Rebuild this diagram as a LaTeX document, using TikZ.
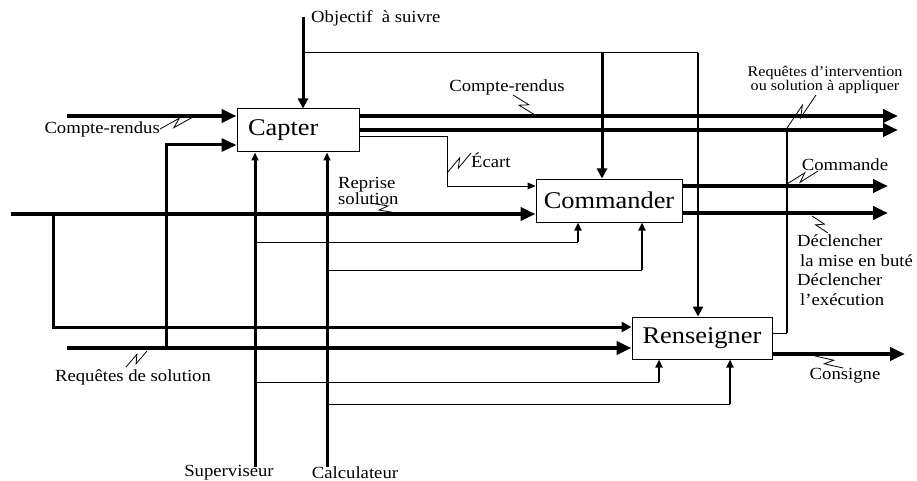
\documentclass[tikz,border=0pt]{standalone}
\usepackage{fontspec}
\setmainfont{Liberation Serif}[FakeStretch=1.1]
\usetikzlibrary{arrows.meta,calc}
\tikzset{
  thk/.style={line width=4.5pt},
  med/.style={line width=3pt},
  mid/.style={line width=2.3pt},
  thn/.style={line width=1pt},
  bigA/.style={-{Triangle[length=15pt,width=13pt]}},
  midA/.style={-{Triangle[length=10pt,width=10pt]}},
  smA/.style={-{Triangle[length=8pt,width=7pt]}},
  box/.style={draw, line width=1pt, fill=white, inner sep=0pt, font=\fontsize{24}{27}\selectfont},
  lab/.style={inner sep=0pt, font=\fontsize{17}{19.5}\selectfont},
  labs/.style={inner sep=0pt, font=\fontsize{14.7}{14}\selectfont},
  zig/.style={line width=0.8pt},
}
\newcommand{\zigzag}[2]{\draw[zig] (#1) -- ($(#1)!0.62!(#2)!3.5pt!90:(#2)$) -- ($(#1)!0.38!(#2)!3.5pt!-90:(#2)$) -- (#2);}
\begin{document}
\begin{tikzpicture}[x=1pt,y=-1pt]
\useasboundingbox (0,0) rectangle (917,481);
\fill[white] (0,0) rectangle (917,481);

% boxes
\node[box, minimum width=122pt, minimum height=43pt, text width=100pt, align=left] (capter) at (298,130.5) {Capter};
\node[box, minimum width=146pt, minimum height=43pt] (cmd) at (609,200.5) {Commander};
\node[box, minimum width=140pt, minimum height=42pt] (rens) at (702,338) {Renseigner};

% coordinates
\coordinate (objtop) at (303,17);
\coordinate (ja) at (303,53);
\coordinate (jb) at (602,53);
\coordinate (jc) at (698,53);
\coordinate (crA) at (67,116);
\coordinate (o1) at (898,116);
\coordinate (o2) at (898,130);
\coordinate (e1) at (447,137);
\coordinate (e2) at (447,186);
\coordinate (m0) at (11,214);
\coordinate (b1) at (53,214);
\coordinate (b2) at (53,327);
\coordinate (r0) at (67,348);
\coordinate (q1) at (166,348);
\coordinate (q2) at (166,145);
\coordinate (s0) at (255,467);
\coordinate (c0) at (327,467);
\coordinate (t1) at (255,242);
\coordinate (t1e) at (578,242);
\coordinate (t2) at (327,270);
\coordinate (t2e) at (642,270);
\coordinate (t3) at (255,382);
\coordinate (t3e) at (659,382);
\coordinate (t4) at (327,404);
\coordinate (t4e) at (730,404);
\coordinate (co1) at (888,186);
\coordinate (co2) at (888,213);
\coordinate (ri1) at (787,333);
\coordinate (ri2) at (787,130);
\coordinate (cons) at (905,354);

% Objectif / controls from top
\draw[med,midA] (objtop) -- (objtop |- capter.north);
\draw[thn] (ja) -- (jc);
\draw[med,midA] (jb) -- (jb |- cmd.north);
\draw[mid,midA] (jc) -- (jc |- rens.north);

% Capter inputs and outputs
\draw[thk,bigA] (crA) -- (crA -| capter.west);
\draw[med,bigA] (q1) -- (q2) -- (q2 -| capter.west);
\draw[thk,bigA] (capter.east |- o1) -- (o1);
\draw[thk,bigA] (capter.east |- o2) -- (o2);
\draw[thn,smA] (capter.east |- e1) -- (e1) -- (e2) -- (e2 -| cmd.west);

% main line and branches
\draw[thk,bigA] (m0) -- (m0 -| cmd.west);
\draw[med,midA] (b1) -- (b2) -- (b2 -| rens.west);
\draw[thk,bigA] (r0) -- (r0 -| rens.west);

% mechanisms
\draw[med,smA] (s0) -- (s0 |- capter.south);
\draw[med,smA] (c0) -- (c0 |- capter.south);
\draw[thn] (t1) -- (t1e);
\draw[mid,smA] (t1e) -- (t1e |- cmd.south);
\draw[thn] (t2) -- (t2e);
\draw[mid,smA] (t2e) -- (t2e |- cmd.south);
\draw[thn] (t3) -- (t3e);
\draw[mid,smA] (t3e) -- (t3e |- rens.south);
\draw[thn] (t4) -- (t4e);
\draw[mid,smA] (t4e) -- (t4e |- rens.south);

% Commander outputs
\draw[thk,bigA] (cmd.east |- co1) -- (co1);
\draw[thk,bigA] (cmd.east |- co2) -- (co2);

% Renseigner outputs
\draw[thn] (rens.east |- ri1) -- (ri1);
\draw[mid] (ri1) -- (ri2);
\draw[thk,bigA] (rens.east |- cons) -- (cons);

% labels
\node[lab,anchor=west] (lobj) at (311,18) {Objectif~~à suivre};
\node[lab,anchor=east] (lcr1) at (160,129) {Compte-rendus};
\node[lab] (lcr2) at (507,87) {Compte-rendus};
\node[lab,anchor=west] (lec) at (471,160) {Écart};
\node[lab,anchor=west,align=left,font=\fontsize{17}{14}\selectfont] (lrep) at (338,191) {Reprise\\solution};
\node[labs,align=center] (lreq) at (825,80) {Requêtes d’intervention\\ou solution à appliquer};
\node[lab] (lcmd) at (845,165) {Commande};
\node[lab,anchor=west,align=left] (ldec) at (797,270) {Déclencher\\\hspace{3pt}la mise en buté\\Déclencher\\\hspace{3pt}l’exécution};
\node[lab] (lcons) at (845,376) {Consigne};
\node[lab] (lrs) at (133,377) {Requêtes de solution};
\node[lab] (lsup) at (229,473) {Superviseur};
\node[lab] (lcalc) at (355,473) {Calculateur};

% zigzag label markers
\coordinate (z1) at (193,117);
\zigzag{lcr1.east}{z1}
\coordinate (z2a) at (513,95);
\coordinate (z2b) at (535,115);
\zigzag{z2a}{z2b}
\coordinate (z3a) at (447,173);
\coordinate (z3b) at (471,153);
\zigzag{z3a}{z3b}
\coordinate (z4a) at (370,203);
\coordinate (z4b) at (397,213);
\zigzag{z4a}{z4b}
\coordinate (z5a) at (787,128);
\coordinate (z5b) at (816,95);
\zigzag{z5a}{z5b}
\coordinate (z6a) at (787,184);
\coordinate (z6b) at (818,171);
\zigzag{z6a}{z6b}
\coordinate (z7a) at (812,216);
\coordinate (z7b) at (828,233);
\zigzag{z7a}{z7b}
\coordinate (z8a) at (815,356);
\coordinate (z8b) at (843,368);
\zigzag{z8a}{z8b}
\coordinate (z9a) at (147,351);
\coordinate (z9b) at (126,367);
\zigzag{z9a}{z9b}
\end{tikzpicture}
\end{document}
